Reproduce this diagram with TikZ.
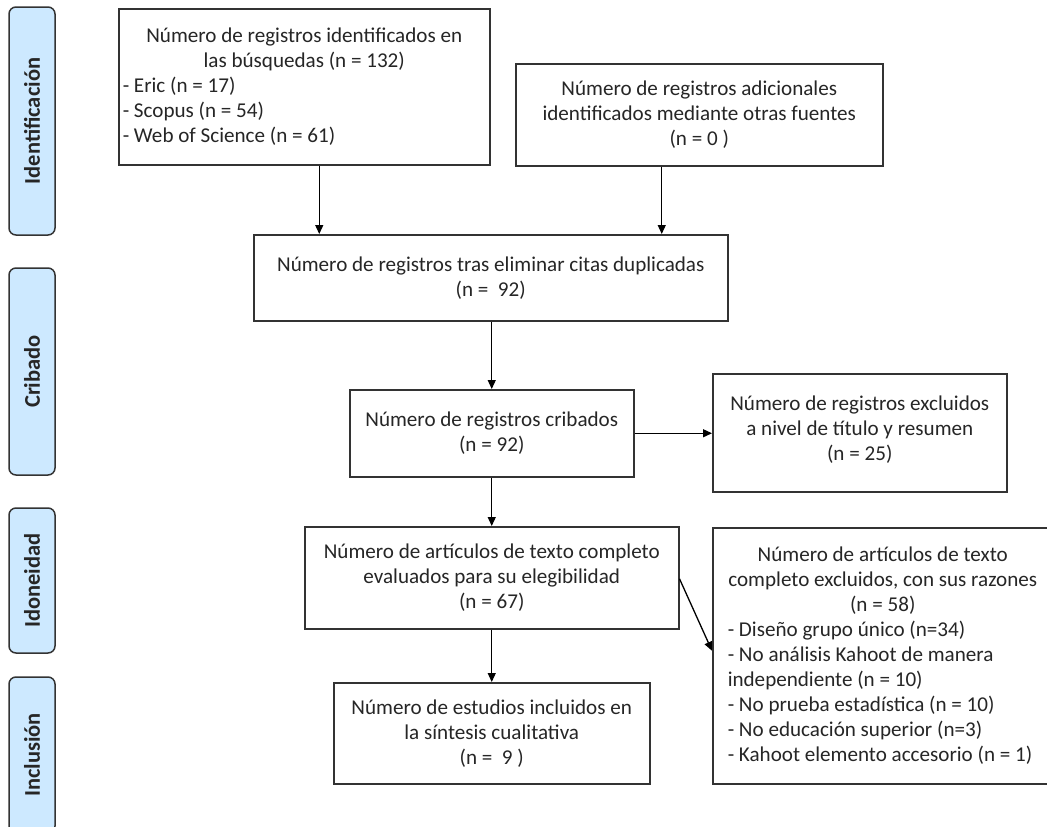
\documentclass[tikz,border=0pt]{standalone}
\usepackage{fontspec}
\setmainfont{Carlito}
\usetikzlibrary{arrows.meta}
\definecolor{sidefill}{HTML}{CDE9FF}
\definecolor{ink}{HTML}{262626}
\definecolor{edge}{HTML}{333333}
\tikzset{
  box/.style={draw=edge, line width=1.5pt, fill=white, text=ink, inner sep=0pt,
    font=\fontsize{21.1}{25}\selectfont, align=center, anchor=north west},
  listbox/.style={box, align=flush left},
  sidebox/.style={draw=edge, line width=1.5pt, fill=sidefill, rounded corners=7pt,
    rotate=90, minimum height=46pt, inner sep=0pt, text=ink,
    font=\bfseries\fontsize{22.5}{25}\selectfont},
  arr/.style={draw=black, line width=1.3pt, -{Triangle[length=9pt,width=8pt]}}
}
\begin{document}
\begin{tikzpicture}[x=1pt,y=-1pt]
\useasboundingbox (0,0) rectangle (1047,827);

% phase labels
\node[sidebox, minimum width=228pt] (s1) at (32,121) {Identificación};
\node[sidebox, minimum width=207pt] (s2) at (32,371.5) {Cribado};
\node[sidebox, minimum width=145pt] (s3) at (32,580.5) {Idoneidad};
\node[sidebox, minimum width=156pt] (s4) at (32,755) {Inclusión};

% boxes
\node[listbox, minimum width=371pt, minimum height=156pt, inner xsep=4pt, text width=363pt] (a) at (118,8)
 {\makebox[363pt]{Número de registros identificados en}\\
  \makebox[363pt]{las búsquedas (n = 132)}\\
  \mbox{- Eric (n = 17)}\\
  \mbox{- Scopus (n = 54)}\\
  \mbox{- Web of Science (n = 61)}};

\node[box, minimum width=367pt, minimum height=102pt] (b) at (515,63)
 {Número de registros adicionales\\ identificados mediante otras fuentes\\ (n = 0 )};

\node[box, minimum width=474pt, minimum height=86pt] (c) at (253,234)
 {Número de registros tras eliminar citas duplicadas\\ (n =\ \ 92)};

\node[box, minimum width=284pt, minimum height=87pt] (d) at (349,389)
 {Número de registros cribados\\ (n = 92)};

\node[box, minimum width=294pt, minimum height=118pt] (e) at (712,373)
 {Número de registros excluidos\\ a nivel de título y resumen\\ (n = 25)\\[-15pt]};

\node[box, minimum width=374pt, minimum height=102pt] (f) at (304,526)
 {Número de artículos de texto completo\\ evaluados para su elegibilidad\\ (n = 67)};

\node[listbox, minimum width=340pt, minimum height=256pt, inner xsep=15pt, text width=310pt] (g) at (712,527)
 {\makebox[310pt]{Número de artículos de texto}\\
  \makebox[310pt]{completo excluidos, con sus razones}\\
  \makebox[310pt]{(n = 58)}\\
  \mbox{- Diseño grupo único (n=34)}\\
  \mbox{- No análisis Kahoot de manera}\\
  \mbox{independiente (n = 10)}\\
  \mbox{- No prueba estadística (n = 10)}\\
  \mbox{- No educación superior (n=3)}\\
  \makebox[310pt][l]{- Kahoot elemento accesorio (n = 1)}};

\node[box, minimum width=316pt, minimum height=101pt] (h) at (333,682)
 {Número de estudios incluidos en\\ la síntesis cualitativa\\ (n =\ \ 9 )};

% connectors
\draw[arr] ([xshift=15pt]a.south) -- ([xshift=15pt]a.south |- c.north);
\draw[arr] ([xshift=-37.5pt]b.south) -- ([xshift=-37.5pt]b.south |- c.north);
\draw[arr] (d.north |- c.south) -- (d.north);
\draw[arr] (d.east) -- (d.east -| e.west);
\draw[arr] (d.south) -- (f.north);
\draw[arr] ([yshift=-1pt]f.east) -- ([yshift=5pt]g.west);
\draw[arr] (f.south) -- (h.north);
\end{tikzpicture}
\end{document}
